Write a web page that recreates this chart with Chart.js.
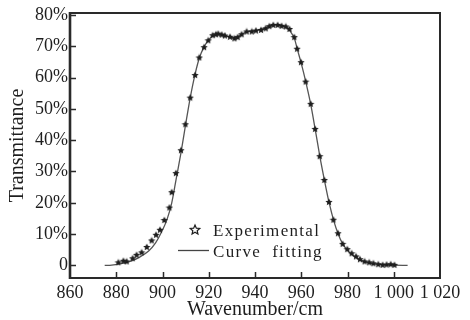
<!DOCTYPE html>
<html>
<head>
<meta charset="utf-8">
<script src="https://cdn.jsdelivr.net/npm/chart.js@4/dist/chart.umd.min.js"></script>
<style>
    html, body { margin: 0; padding: 0; background: #fff; }
    #wrap { width: 470px; height: 320px; }
</style>
</head>
<body>
<div id="wrap"><canvas id="myChart" width="470" height="320"></canvas></div>
<script>
// values
const expX = [880.9, 883.1, 884.5, 887.1, 888.8, 891, 893.2, 895.3, 897.2, 898.9, 900.8, 903, 904, 905.8, 908, 909.9, 912, 914.1, 915.9, 918, 919.8, 921.7, 923.1, 924.1, 925.6, 927, 929.2, 931.1, 932.5, 934.2, 936.4, 938.6, 940.4, 942.6, 944.6, 946.2, 947.9, 949.8, 951.5, 953.3, 954.9, 957, 958.2, 959.9, 961.9, 964.1, 966, 968, 970, 972, 973.9, 975.9, 977.9, 979.9, 981.8, 983.7, 985.4, 987.4, 989.4, 991.2, 993.3, 995.2, 996.9, 998.7, 1000.3];
const expY = [1.0, 1.5, 1.3, 2.3, 3.4, 4.2, 5.9, 8.0, 9.8, 11.4, 14.5, 18.5, 23.4, 29.5, 36.8, 45.1, 53.6, 60.8, 66.4, 69.7, 71.9, 73.5, 73.8, 74.0, 73.7, 73.4, 73.0, 72.5, 72.9, 73.8, 74.7, 74.7, 75.0, 75.2, 75.7, 76.4, 76.8, 76.8, 76.5, 76.3, 75.5, 72.9, 69.2, 64.9, 58.7, 51.6, 43.6, 34.9, 27.3, 20.3, 14.6, 10.3, 6.9, 5.2, 3.9, 2.9, 2.0, 1.3, 1.0, 0.7, 0.4, 0.2, 0.3, 0.4, 0.2];

const fitX = [875, 878, 882, 886, 890, 894, 897, 900, 902, 904, 906, 908, 910, 912, 914, 916, 918, 920, 922, 924, 926, 928, 930, 932, 934, 936, 938, 940, 942, 944, 946, 948, 950, 952, 954, 955.5, 957, 958.5, 960, 962, 964, 966, 968, 970, 972, 974, 976, 978, 980, 982, 984, 986, 988, 990, 993, 996, 1000, 1006];
const fitY = [0, 0.1, 0.6, 1.3, 2.6, 4.6, 7.2, 11.3, 14.8, 20, 28, 36, 45, 53.6, 60.8, 66.4, 69.8, 72, 73.4, 73.9, 73.6, 73.1, 72.7, 72.8, 73.7, 74.5, 74.8, 75, 75.3, 75.7, 76.3, 76.8, 76.8, 76.4, 75.9, 74.5, 72.5, 68.5, 64.5, 58.5, 51.8, 43.6, 35, 27.3, 20.2, 14.4, 10, 6.8, 4.8, 3.4, 2.4, 1.6, 1.1, 0.7, 0.4, 0.2, 0.1, 0];

const xTicks = [860, 880, 900, 920, 940, 960, 980, 1000, 1020];
const yTicks = [0, 10, 20, 30, 40, 50, 60, 70, 80];

const serif = '"Liberation Serif", "Times New Roman", serif';
const ink = '#1e1e1e';

// little filled star for the markers
let starPath = (ctx, cx, cy, r1, r2) => {
    ctx.beginPath();
    for (let i = 0; i < 10; i++) {
        const r = i % 2 ? r2 : r1;
        const a = -Math.PI / 2 + i * Math.PI / 5;
        ctx.lineTo(cx + r * Math.cos(a), cy + r * Math.sin(a));
    }
    ctx.closePath();
};

const starImg = document.createElement('canvas');
starImg.width = 8;
starImg.height = 8;
{
    const c = starImg.getContext('2d');
    c.fillStyle = ink;
    starPath(c, 4, 4.3, 3.8, 1.8);
    c.fill();
}

// frame + inward ticks
const framePlugin = {
    id: 'frame',
    afterDraw(chart) {
        const {ctx, chartArea: a, scales} = chart;
        ctx.save();
        ctx.strokeStyle = '#2a2a2a';
        ctx.lineWidth = 2;
        ctx.strokeRect(a.left, a.top, a.right - a.left, a.bottom - a.top);
        ctx.lineWidth = 2.6;
        ctx.beginPath();
        ctx.moveTo(a.left, a.top - 1);
        ctx.lineTo(a.left, a.bottom + 1);
        ctx.stroke();
        ctx.lineWidth = 1.5;
        ctx.beginPath();
        yTicks.forEach((v) => {
            const y = Math.round(scales.y.getPixelForValue(v)) + 0.5;
            ctx.moveTo(a.left, y);
            ctx.lineTo(a.left + 6, y);
        });
        xTicks.slice(1, -1).forEach((v) => {
            const x = Math.round(scales.x.getPixelForValue(v)) + 0.5;
            ctx.moveTo(x, a.bottom);
            ctx.lineTo(x, a.bottom - 6);
        });
        ctx.stroke();
        ctx.restore();
    }
};

// legend sits inside the plot
const legendPlugin = {
    id: 'innerLegend',
    afterDraw(chart) {
        const ctx = chart.ctx;
        ctx.save();
        ctx.strokeStyle = ink;
        ctx.lineWidth = 1.2;
        starPath(ctx, 195, 230, 5, 2.3);
        ctx.stroke();
        ctx.strokeStyle = '#444';
        ctx.lineWidth = 1.3;
        ctx.beginPath();
        ctx.moveTo(178, 250.5);
        ctx.lineTo(209, 250.5);
        ctx.stroke();
        ctx.fillStyle = ink;
        ctx.font = '17px ' + serif;
        ctx.textBaseline = 'alphabetic';
        ctx.letterSpacing = '1.3px';
        ctx.fillText('Experimental', 213, 236);
        ctx.fillText('Curve  fitting', 213, 257);
        ctx.restore();
    }
};

const config = {
    type: 'scatter',
    data: {
        datasets: [{
            label: 'Experimental',
            data: expX.map((x, i) => ({x: x, y: expY[i]})),
            pointStyle: starImg,
            pointRadius: 4,
            showLine: false,
            order: 0
        }, {
            label: 'Curve fitting',
            data: fitX.map((x, i) => ({x: x, y: fitY[i]})),
            showLine: true,
            borderColor: '#555',
            borderWidth: 1.3,
            pointRadius: 0,
            cubicInterpolationMode: 'monotone',
            order: 1
        }]
    },
    options: {
        responsive: false,
        animation: false,
        layout: {
            padding: {top: 13, right: 30, left: 0, bottom: 0}
        },
        plugins: {
            legend: {display: false},
            tooltip: {enabled: false}
        },
        scales: {
            x: {
                type: 'linear',
                min: 860,
                max: 1020,
                afterBuildTicks: (s) => { s.ticks = xTicks.map((v) => ({value: v})); },
                afterFit: (s) => { s.height = 42; },
                grid: {display: false, drawTicks: false},
                border: {display: false},
                ticks: {
                    color: ink,
                    padding: 4,
                    maxRotation: 0,
                    font: {family: serif, size: 18},
                    callback: (v) => v >= 1000 ? '1 ' + String(v).slice(1) : String(v)
                },
                title: {
                    display: true,
                    text: 'Wavenumber/cm',
                    color: ink,
                    padding: {top: 0, bottom: 0},
                    font: {family: serif, size: 20, lineHeight: 1}
                }
            },
            y: {
                min: -4,
                max: 80.6,
                afterBuildTicks: (s) => { s.ticks = yTicks.map((v) => ({value: v})); },
                afterFit: (s) => { s.width = 70; },
                grid: {display: false, drawTicks: false},
                border: {display: false},
                ticks: {
                    color: ink,
                    padding: 2,
                    font: {family: serif, size: 18},
                    callback: (v) => v === 0 ? '0' : v + '%'
                },
                title: {
                    display: true,
                    text: 'Transmittance',
                    color: ink,
                    padding: {top: 6, bottom: 0},
                    font: {family: serif, size: 20}
                }
            }
        }
    },
    plugins: [framePlugin, legendPlugin]
};

const myChart = new Chart(document.getElementById('myChart'), config);
</script>
</body>
</html>
